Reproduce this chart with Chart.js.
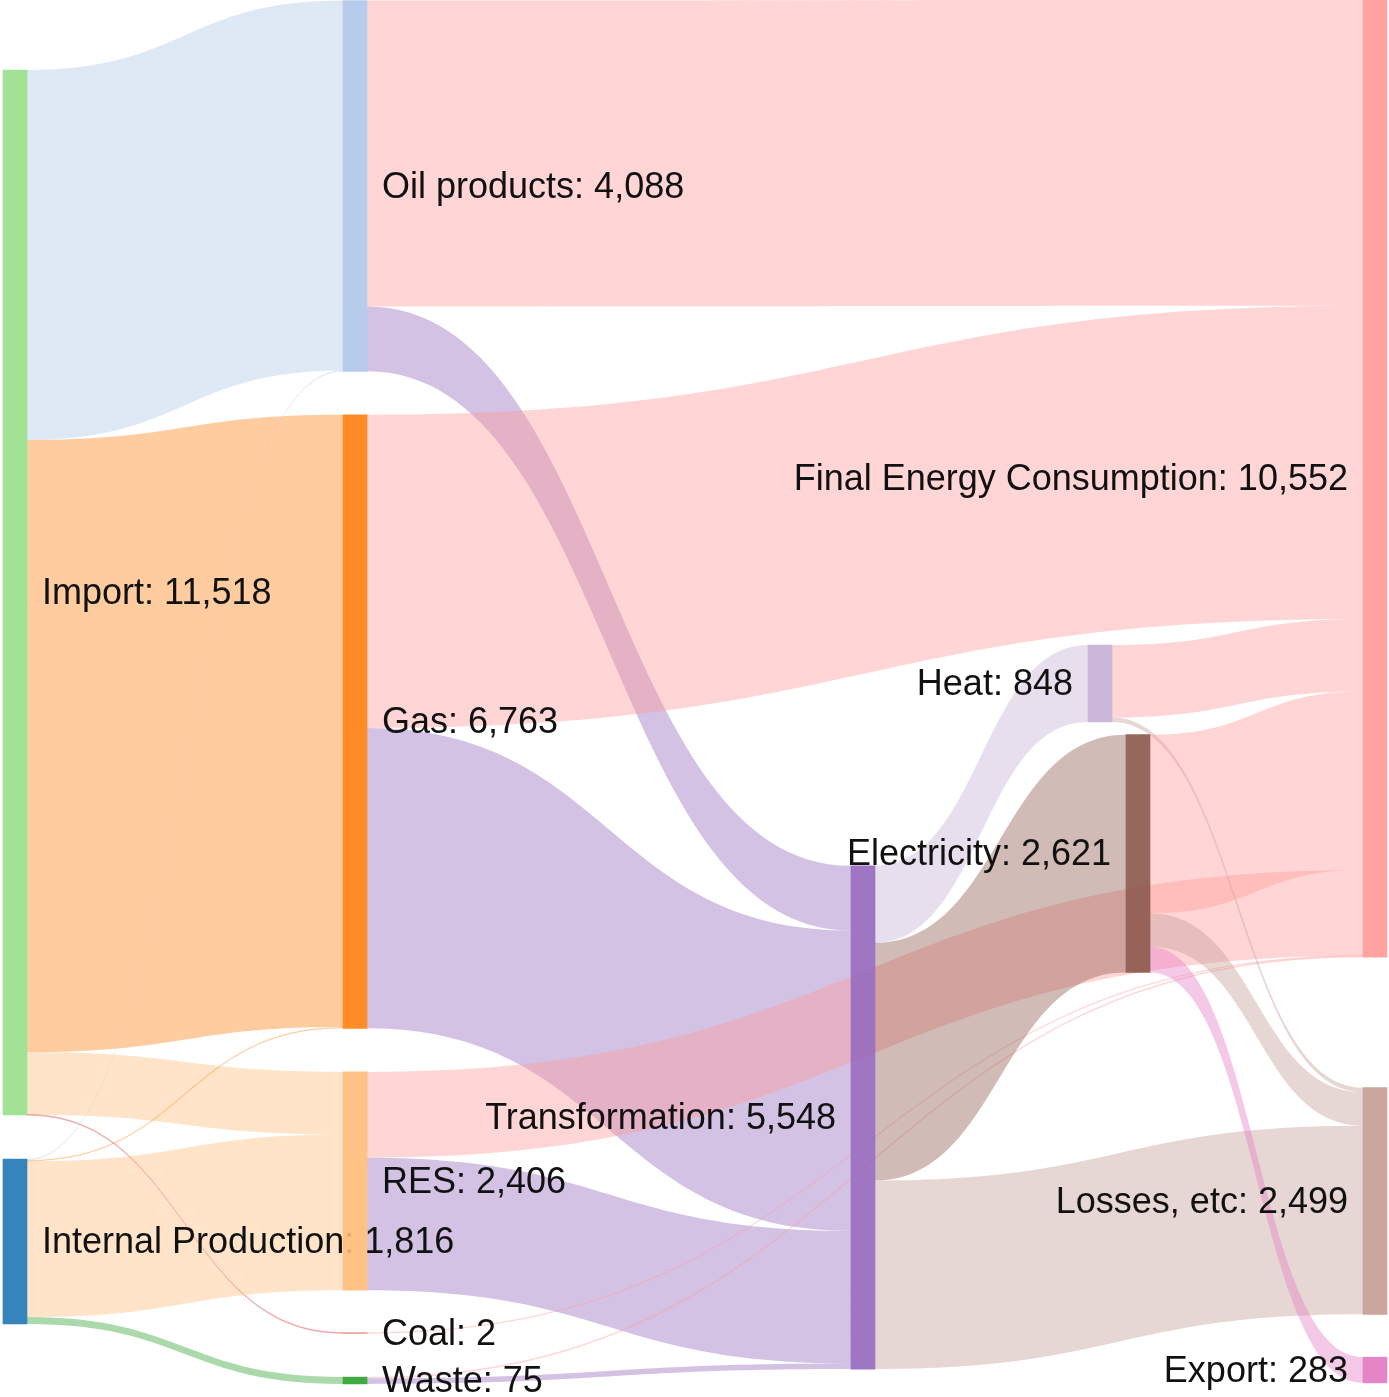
<!DOCTYPE html>
<html>
<head>
<meta charset="utf-8">
<title>Energy balance</title>
<script src="https://cdn.jsdelivr.net/npm/chart.js@4.4.1/dist/chart.umd.min.js"></script>
<style>
  html, body { margin: 0; padding: 0; background: #fff; }
  #wrap { width: 1389px; height: 1397px; }
</style>
</head>
<body>
<div id="wrap"><canvas id="myChart" width="1389" height="1397"></canvas></div>
<script>
'use strict';

// nodes (label values)
let nodeNames = ['Import', 'Internal Production', 'Oil products', 'Gas', 'RES', 'Coal', 'Waste',
  'Transformation', 'Heat', 'Electricity', 'Final Energy Consumption', 'Losses, etc', 'Export'];
let nodeValues = [11518, 1816, 4088, 6763, 2406, 2, 75, 5548, 848, 2621, 10552, 2499, 283];

// links: source index -> target index
let linkSources = [0, 0, 0, 0, 1, 1, 1, 1, 2, 2, 3, 3, 4, 4, 5, 6, 6, 7, 7, 7, 8, 8, 9, 9, 9];
let linkTargets = [2, 3, 4, 5, 2, 3, 4, 6, 10, 7, 10, 7, 10, 7, 10, 10, 7, 8, 9, 11, 10, 11, 10, 11, 12];
let linkValues = [4078, 6748, 690, 2, 10, 15, 1716, 75, 3373, 715, 3453, 3310, 946, 1460, 2,
  12, 63, 848, 2621, 2079, 798, 50, 1968, 370, 283];

// layout: node centre as fraction of width / height (like plotly node.x / node.y)
let nodeX = [0.0108, 0.0108, 0.2556, 0.2556, 0.2556, 0.2556, 0.2556, 0.6213, 0.7919, 0.8193, 0.9899, 0.9899, 0.9899];
let nodeY = [0.4241, 0.8887, 0.1331, 0.5165, 0.8454, 0.9542, 0.9882, 0.7999, 0.4893, 0.6110, 0.3425, 0.8597, 0.9807];
let nodeColors = ['#98df8a', '#1f77b4', '#aec7e8', '#ff7f0e', '#ffbb78', '#d62728', '#2ca02c',
  '#9467bd', '#c5b0d5', '#8c564b', '#ff9896', '#c49c94', '#e377c2'];

let yMax = 15400;
let linkAlpha = 0.4;
let nodeAlpha = 0.9;
let nodeWidth = 24;
let labelFont = '36px "Liberation Sans", Arial, sans-serif';

let ctx = document.getElementById('myChart');

// helper functions
function hexToRgba(hex, a) {
  let r = parseInt(hex.slice(1, 3), 16);
  let g = parseInt(hex.slice(3, 5), 16);
  let b = parseInt(hex.slice(5, 7), 16);
  return 'rgba(' + r + ',' + g + ',' + b + ',' + a + ')';
}

function formatNumber(v) {
  return v.toString().replace(/\B(?=(\d{3})+(?!\d))/g, ',');
}

// node tops in value units
let nodeTops = nodeValues.map(function (v, i) {
  return nodeY[i] * yMax - v / 2;
});

// build links with their offsets inside source and target nodes
let allLinks = [];
for (let i = 0; i < linkValues.length; i++) {
  allLinks.push({ source: linkSources[i], target: linkTargets[i], value: linkValues[i], sy: 0, ty: 0 });
}

for (let n = 0; n < nodeNames.length; n++) {
  let outgoing = allLinks.filter(function (l) { return l.source === n; });
  outgoing.sort(function (a, b) { return nodeTops[a.target] - nodeTops[b.target]; });
  let off = nodeTops[n];
  for (let l of outgoing) {
    l.sy = off;
    off += l.value;
  }
  let incoming = allLinks.filter(function (l) { return l.target === n; });
  incoming.sort(function (a, b) { return nodeTops[a.source] - nodeTops[b.source]; });
  off = nodeTops[n];
  for (let l of incoming) {
    l.ty = off;
    off += l.value;
  }
}

// draws the flows and the labels under the node bars
let sankeyLinks = {
  id: 'sankeyLinks',
  beforeDatasetsDraw(chart) {
    let c = chart.ctx;
    let yScale = chart.scales.y;
    let nodes = chart.getDatasetMeta(0).data;
    c.save();
    for (let l of allLinks) {
      let s = nodes[l.source];
      let t = nodes[l.target];
      let x0 = s.x + s.width / 2;
      let x1 = t.x - t.width / 2;
      let a0 = yScale.getPixelForValue(l.sy);
      let a1 = yScale.getPixelForValue(l.sy + l.value);
      let b0 = yScale.getPixelForValue(l.ty);
      let b1 = yScale.getPixelForValue(l.ty + l.value);
      // keep very thin flows visible
      if (a1 - a0 < 1.4) {
        let m = (a0 + a1) / 2;
        a0 = m - 0.7; a1 = m + 0.7;
        m = (b0 + b1) / 2;
        b0 = m - 0.7; b1 = m + 0.7;
      }
      let xm = (x0 + x1) / 2;
      c.beginPath();
      c.moveTo(x0, a0);
      c.bezierCurveTo(xm, a0, xm, b0, x1, b0);
      c.lineTo(x1, b1);
      c.bezierCurveTo(xm, b1, xm, a1, x0, a1);
      c.closePath();
      c.fillStyle = hexToRgba(nodeColors[l.target], linkAlpha);
      c.fill();
    }

    // labels
    let half = chart.width / 2;
    c.font = labelFont;
    c.fillStyle = '#111';
    c.textBaseline = 'middle';
    for (let i = 0; i < nodes.length; i++) {
      let el = nodes[i];
      let text = nodeNames[i] + ': ' + formatNumber(nodeValues[i]);
      let yc = (el.y + el.base) / 2 + 2;
      if (el.x < half) {
        c.textAlign = 'left';
        c.fillText(text, el.x + el.width / 2 + 15, yc);
      } else {
        c.textAlign = 'right';
        c.fillText(text, el.x - el.width / 2 - 15, yc);
      }
    }
    c.restore();
  }
};

let nodeData = nodeNames.map(function (name, i) {
  return { x: nodeX[i], y: [nodeTops[i], nodeTops[i] + nodeValues[i]] };
});

let myChartObj = {
  type: 'bar',
  data: {
    datasets: [{
      label: 'nodes',
      data: nodeData,
      backgroundColor: nodeColors.map(function (col) { return hexToRgba(col, nodeAlpha); }),
      borderWidth: 0,
      barThickness: nodeWidth,
      minBarLength: 0
    }]
  },
  options: {
    responsive: false,
    animation: false,
    layout: { padding: 0 },
    plugins: {
      legend: { display: false },
      tooltip: { enabled: false }
    },
    scales: {
      x: { type: 'linear', min: 0, max: 1, offset: false, display: false },
      y: { min: 0, max: yMax, reverse: true, display: false }
    }
  },
  plugins: [sankeyLinks]
};

new Chart(ctx, myChartObj);
</script>
</body>
</html>
